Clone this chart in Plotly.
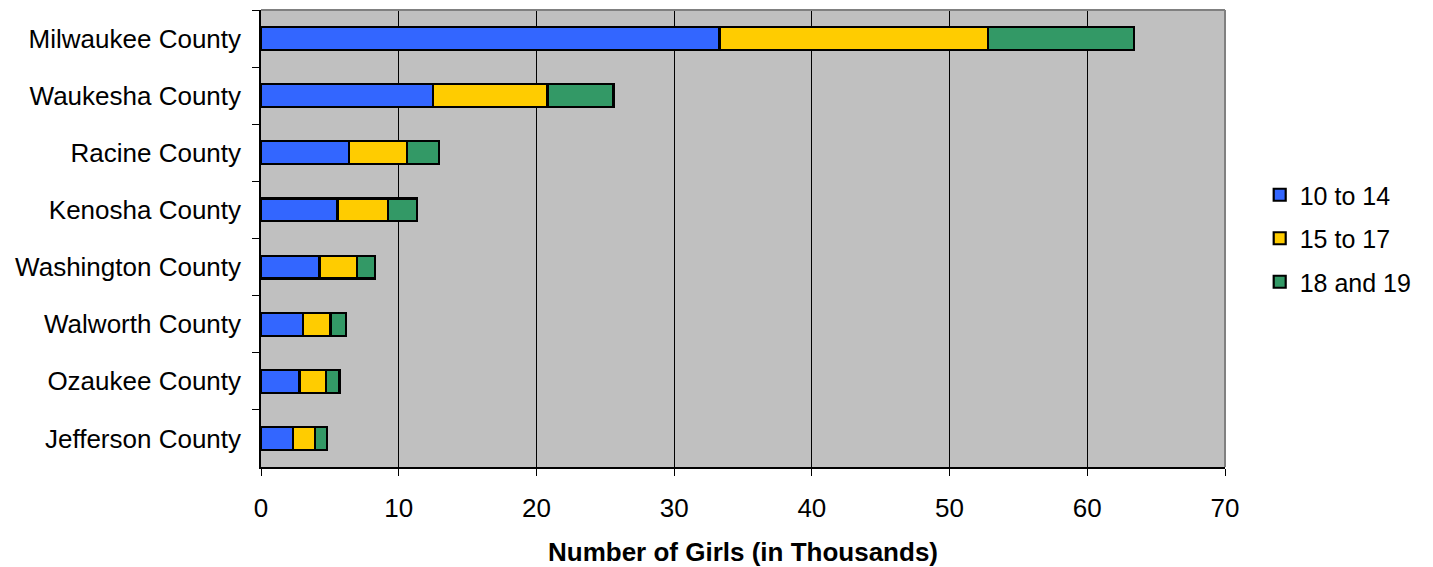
import plotly.graph_objects as go

counties = ["Milwaukee County", "Waukesha County", "Racine County", "Kenosha County",
            "Washington County", "Walworth County", "Ozaukee County", "Jefferson County"]
age_10_14 = [33.3, 12.5, 6.4, 5.55, 4.25, 3.05, 2.8, 2.3]
age_15_17 = [19.5, 8.3, 4.2, 3.65, 2.7, 2.0, 1.9, 1.6]
age_18_19 = [10.6, 4.8, 2.35, 2.15, 1.35, 1.1, 1.0, 0.9]

series = [
    ("10 to 14", age_10_14, "#3366FF"),
    ("15 to 17", age_15_17, "#FFCC00"),
    ("18 and 19", age_18_19, "#339966"),
]

FONT = "Arial, Liberation Sans, sans-serif"
FS = 26

fig = go.Figure()
for name, vals, color in series:
    fig.add_trace(go.Bar(
        y=counties, x=vals, name=name, orientation="h",
        marker=dict(color=color, line=dict(color="black", width=2.2)),
        width=0.4, legendgroup=name,
    ))

fig.update_layout(
    barmode="stack",
    width=1433, height=567,
    margin=dict(l=261, r=208, t=10, b=100, autoexpand=False),
    paper_bgcolor="white",
    plot_bgcolor="#C0C0C0",
    font=dict(family=FONT, size=FS, color="black"),
    showlegend=True,
    legend=dict(
        x=1.036, y=0.5, xanchor="left", yanchor="middle",
        font=dict(family=FONT, size=25), traceorder="grouped",
        tracegroupgap=8, itemwidth=30,
        bgcolor="rgba(0,0,0,0)",
    ),
    xaxis=dict(
        range=[0, 70], dtick=10, tick0=0,
        showgrid=True, gridcolor="black", gridwidth=1,
        zeroline=False, automargin=False,
        showline=True, linecolor="black", linewidth=1.5,
        ticks="outside", ticklen=7, tickcolor="black",
        ticklabelstandoff=10,
        tickfont=dict(family=FONT, size=FS),
        title=dict(text="<b>Number of Girls (in Thousands)</b>",
                   font=dict(family=FONT, size=FS), standoff=22),
    ),
    yaxis=dict(
        categoryorder="array", categoryarray=counties,
        autorange="reversed", automargin=False,
        showgrid=False, zeroline=False,
        showline=True, linecolor="black", linewidth=1.5,
        ticks="outside", ticklen=7, tickcolor="black", tickson="boundaries",
        ticklabelstandoff=13,
        tickfont=dict(family=FONT, size=FS),
    ),
)

# gray frame on the top and right sides of the plot area
fig.add_shape(type="line", xref="x domain", yref="y domain", x0=0, x1=1, y0=1, y1=1,
              line=dict(color="#808080", width=2), layer="above")
fig.add_shape(type="line", xref="x domain", yref="y domain", x0=1, x1=1, y0=0, y1=1,
              line=dict(color="#808080", width=2), layer="above")

fig.write_html("out.html")
